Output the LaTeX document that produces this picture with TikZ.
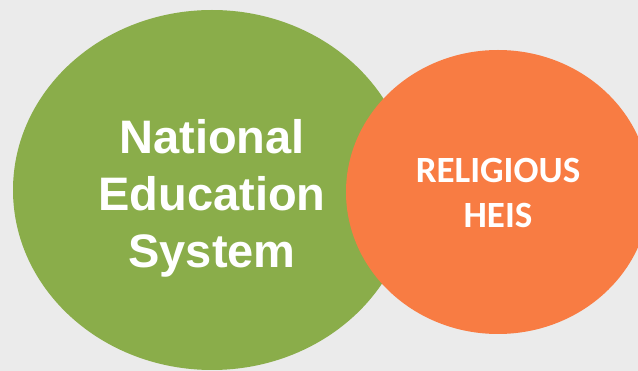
\documentclass[tikz,border=0pt]{standalone}
\usepackage{fontspec}
\setmainfont{Liberation Sans}
\newfontfamily\calfont{Carlito}
\usetikzlibrary{shapes.geometric}
\definecolor{bgc}{HTML}{EBEBEB}
\definecolor{grn}{HTML}{8AAD4A}
\definecolor{org}{HTML}{F87C43}
\tikzset{
  blob/.style={ellipse, inner sep=0pt, draw=none},
  bigtext/.style={text=white, align=center, inner sep=0pt, font=\bfseries\fontsize{47}{57}\selectfont},
  smalltext/.style={text=white, align=center, inner sep=0pt, font=\calfont\bfseries\fontsize{37}{45}\selectfont}
}
\begin{document}
\begin{tikzpicture}[x=1pt,y=-1pt]
\fill[bgc] (0,0) rectangle (638,371);
\useasboundingbox (0,0) rectangle (638,371);
\begin{scope}
\clip (0,0) rectangle (638,371);
\node[blob, fill=grn, minimum width=398pt, minimum height=360pt] (nes) at (212,190) {};
\node[blob, fill=org, minimum width=304pt, minimum height=284pt] (rel) at (498,192) {};
\end{scope}
\node[bigtext] (nestext) at (212,198) {National\\Education\\System};
\node[smalltext] (reltext) at (498,192.5) {RELIGIOUS\\HEIS};
\end{tikzpicture}
\end{document}
